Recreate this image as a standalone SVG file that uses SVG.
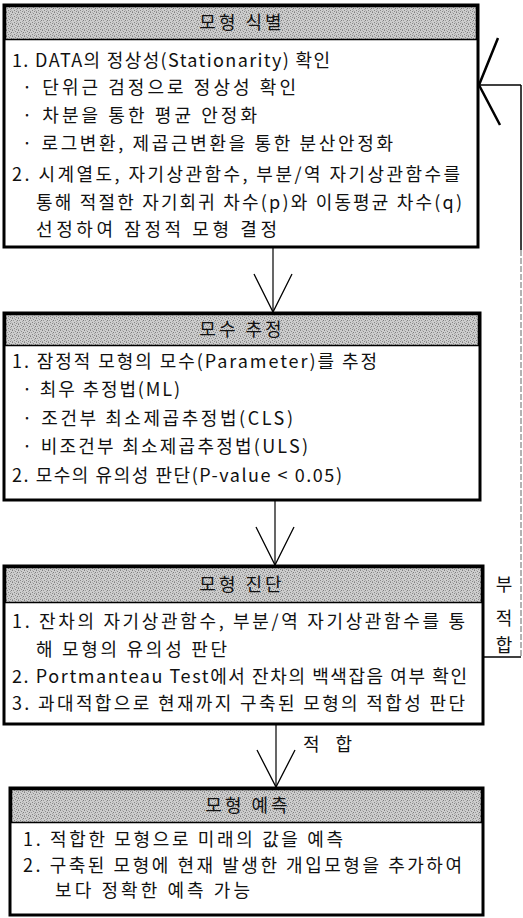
<svg xmlns="http://www.w3.org/2000/svg" width="523" height="918" viewBox="0 0 523 918">
<defs>
<pattern id="ht" width="6" height="6" patternUnits="userSpaceOnUse">
<rect width="6" height="6" fill="#cdcdcd"/>
<rect x="0" y="0" width="1" height="1" fill="#808080"/>
<rect x="3" y="1" width="1" height="1" fill="#8c8c8c"/>
<rect x="1" y="2" width="1" height="1" fill="#9a9a9a"/>
<rect x="5" y="2" width="1" height="1" fill="#7c7c7c"/>
<rect x="2" y="4" width="1" height="1" fill="#868686"/>
<rect x="4" y="3" width="1" height="1" fill="#a4a4a4"/>
<rect x="0" y="5" width="1" height="1" fill="#9e9e9e"/>
<rect x="4" y="5" width="1" height="1" fill="#8a8a8a"/>
<rect x="2" y="0" width="1" height="1" fill="#b0b0b0"/>
<rect x="5" y="4" width="1" height="1" fill="#b4b4b4"/>
</pattern>
</defs>
<style>
.box{fill:#fff;stroke:#000;stroke-width:3}
.hd{fill:url(#ht);stroke:#000;stroke-width:1.5}
.ht{font-family:"Noto Sans CJK KR","Noto Sans",sans-serif;font-size:18px;fill:#111;text-anchor:middle;letter-spacing:3px}
.t{font-family:"Noto Sans CJK KR","Noto Sans",sans-serif;font-size:18px;fill:#111}
.ln{fill:none;stroke:#000;stroke-width:1.2}
.ah{fill:none;stroke:#000;stroke-width:1.3}
.fb{fill:none;stroke:#000;stroke-width:1.5}
.fbv{fill:none;stroke:#666;stroke-width:1;stroke-dasharray:6 2}
.ahb{fill:none;stroke:#000;stroke-width:2.5}
</style>
<g id="node-identify">
<rect class="box" x="4" y="5" width="474" height="242"/>
<rect class="hd" x="5.5" y="6.5" width="471" height="33"/>
<text class="ht" x="242" y="29">모형 식별</text>
<text class="t" x="12" y="67" textLength="318" lengthAdjust="spacing">1. DATA의 정상성(Stationarity) 확인</text>
<text class="t" x="22" y="94" textLength="274" lengthAdjust="spacing">· 단위근 검정으로 정상성 확인</text>
<text class="t" x="22" y="122" textLength="235" lengthAdjust="spacing">· 차분을 통한 평균 안정화</text>
<text class="t" x="22" y="150" textLength="371" lengthAdjust="spacing">· 로그변환, 제곱근변환을 통한 분산안정화</text>
<text class="t" x="12" y="181" textLength="448" lengthAdjust="spacing">2. 시계열도, 자기상관함수, 부분/역 자기상관함수를</text>
<text class="t" x="36" y="209" textLength="426" lengthAdjust="spacing">통해 적절한 자기회귀 차수(p)와 이동평균 차수(q)</text>
<text class="t" x="36" y="236" textLength="241" lengthAdjust="spacing">선정하여 잠정적 모형  결정</text>
</g>
<g id="node-estimate">
<rect class="box" x="4" y="313" width="476" height="187"/>
<rect class="hd" x="5.5" y="314.5" width="473" height="31"/>
<text class="ht" x="242" y="336">모수 추정</text>
<text class="t" x="12" y="368" textLength="365" lengthAdjust="spacing">1. 잠정적 모형의 모수(Parameter)를 추정</text>
<text class="t" x="22" y="396" textLength="158" lengthAdjust="spacing">· 최우 추정법(ML)</text>
<text class="t" x="22" y="425" textLength="271" lengthAdjust="spacing">· 조건부 최소제곱추정법(CLS)</text>
<text class="t" x="22" y="453" textLength="286" lengthAdjust="spacing">· 비조건부 최소제곱추정법(ULS)</text>
<text class="t" x="12" y="482" textLength="330" lengthAdjust="spacing">2. 모수의 유의성 판단(P-value &lt; 0.05)</text>
</g>
<g id="node-diagnose">
<rect class="box" x="4" y="566" width="479" height="158"/>
<rect class="hd" x="5.5" y="567.5" width="476" height="35"/>
<text class="ht" x="242" y="591">모형 진단</text>
<text class="t" x="12" y="628" textLength="453" lengthAdjust="spacing">1. 잔차의 자기상관함수, 부분/역 자기상관함수를 통</text>
<text class="t" x="36" y="656" textLength="191" lengthAdjust="spacing">해 모형의 유의성 판단</text>
<text class="t" x="12" y="683" textLength="455" lengthAdjust="spacing">2. Portmanteau Test에서 잔차의 백색잡음 여부 확인</text>
<text class="t" x="12" y="710" textLength="453" lengthAdjust="spacing">3. 과대적합으로 현재까지 구축된 모형의 적합성 판단</text>
</g>
<g id="node-forecast">
<rect class="box" x="10" y="788" width="473" height="127"/>
<rect class="hd" x="11.5" y="789.5" width="470" height="33"/>
<text class="ht" x="248" y="812">모형 예측</text>
<text class="t" x="23" y="846" textLength="320" lengthAdjust="spacing">1. 적합한 모형으로 미래의 값을 예측</text>
<text class="t" x="23" y="872" textLength="439" lengthAdjust="spacing">2. 구축된 모형에 현재 발생한 개입모형을 추가하여</text>
<text class="t" x="55" y="897" textLength="195" lengthAdjust="spacing">보다 정확한 예측 가능</text>
</g>
<g id="connectors">
<line class="ln" x1="273" y1="248" x2="273" y2="312"/>
<polyline class="ah" points="254,274 273,312 292,274"/>
<line class="ln" x1="275" y1="501" x2="275" y2="565"/>
<polyline class="ah" points="256,527 275,565 294,527"/>
<line class="ln" x1="276" y1="725" x2="276" y2="787"/>
<polyline class="ah" points="257,750 276,787 295,750"/>
<text class="t" x="303" y="751" style="word-spacing:12px">적 합</text>
<polyline class="fb" points="483,657 521,657"/>
<line class="fb" x1="521" y1="85" x2="521" y2="250"/>
<line class="fbv" x1="521" y1="250" x2="521" y2="657"/>
<polyline class="fb" points="521,85 479,85"/>
<polyline class="ahb" points="498,38 479,85 500,125"/>
<text class="t" x="504" y="591" text-anchor="middle">부</text>
<text class="t" x="504" y="625" text-anchor="middle">적</text>
<text class="t" x="504" y="652" text-anchor="middle">합</text>
</g>
</svg>
